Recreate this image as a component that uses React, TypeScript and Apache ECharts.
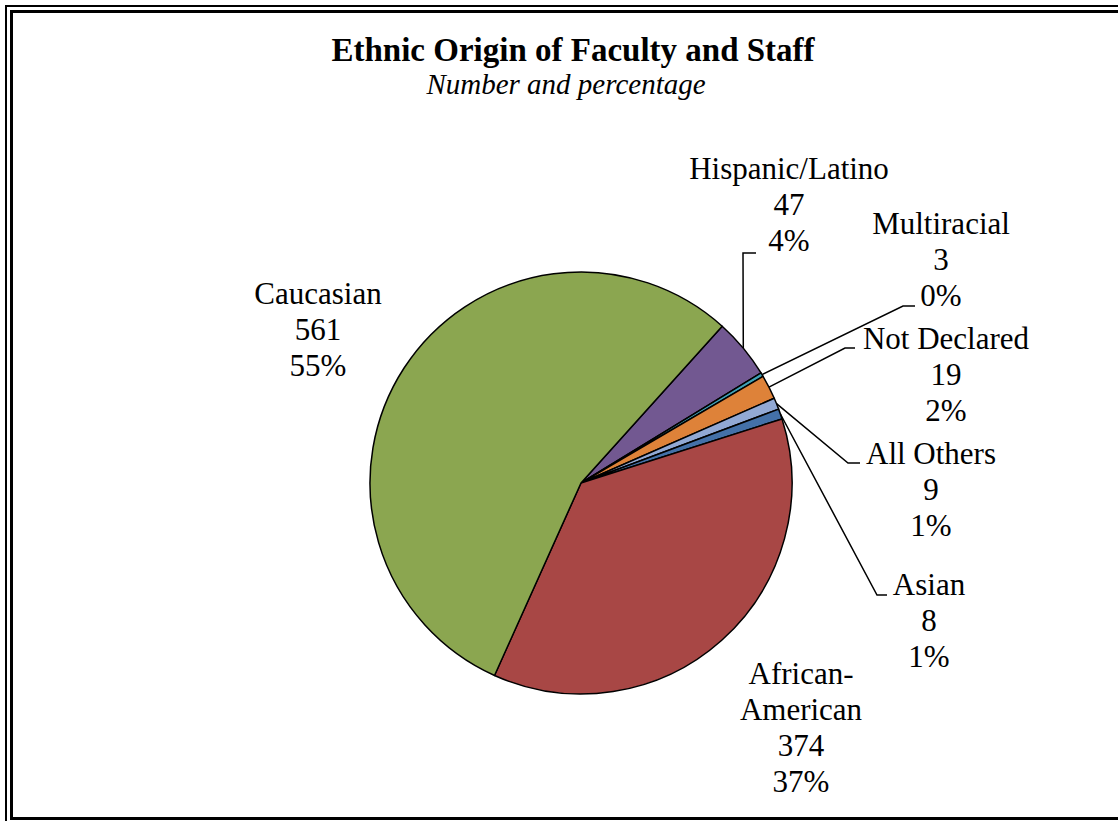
import React, { useEffect, useRef } from "react";
import * as echarts from "echarts";

const categories = ["Hispanic/Latino", "Multiracial", "Not Declared", "All Others", "Asian", "African-American", "Caucasian"];
const displayNames = ["Hispanic/Latino", "Multiracial", "Not Declared", "All Others", "Asian", "African-\nAmerican", "Caucasian"];
const counts = [47, 3, 19, 9, 8, 374, 561];
const percentLabels = ["4%", "0%", "2%", "1%", "1%", "37%", "55%"];
const colors = ["#725891", "#3FA2B8", "#DE8239", "#92A9D4", "#4471A8", "#A84745", "#8BA650"];

// label layout (center x, middle y) and leader line bends
const labelPos: number[][] = [
  [789, 204],
  [941, 259],
  [946, 374],
  [931, 489],
  [929, 620],
  [801, 727],
  [318, 329],
];
const leaderBends: (number[][] | null)[] = [
  [[743, 253], [756, 253]],
  [[903, 306], [915, 306]],
  [[845, 348], [855, 348]],
  [[848, 463], [860, 463]],
  [[877, 595], [887, 595]],
  null,
  null,
];

const CX = 581;
const CY = 483;
const R = 211;
const START = 48;

export default function App() {
  const ref = useRef<HTMLDivElement>(null);
  useEffect(() => {
    document.body.style.margin = "0";
    const chart = echarts.init(ref.current!, undefined, { renderer: "svg" });
    const total = counts.reduce((a, b) => a + b, 0);
    const anchorFor = (i: number) => {
      let before = 0;
      for (let k = 0; k < i; k++) before += counts[k];
      const mid = ((before + counts[i] / 2) / total) * 360;
      const a = ((START - mid) * Math.PI) / 180;
      return [CX + R * Math.cos(a), CY - R * Math.sin(a)];
    };
    const font = "'Liberation Serif', 'Times New Roman', serif";
    chart.setOption({
      animation: false,
      backgroundColor: "#ffffff",
      graphic: [
        {
          type: "rect",
          silent: true,
          shape: { x: 6, y: 6, width: 1200, height: 900 },
          style: { fill: "none", stroke: "#000", lineWidth: 2 },
        },
        {
          type: "rect",
          silent: true,
          shape: { x: 11.5, y: 11.5, width: 1200, height: 807 },
          style: { fill: "none", stroke: "#000", lineWidth: 3 },
        },
        {
          type: "text",
          x: 573,
          y: 50,
          style: {
            text: "Ethnic Origin of Faculty and Staff",
            font: `bold 33px ${font}`,
            fill: "#000",
            textAlign: "center",
            textVerticalAlign: "middle",
          },
        },
        {
          type: "text",
          x: 566,
          y: 84,
          style: {
            text: "Number and percentage",
            font: `italic 29px ${font}`,
            fill: "#000",
            textAlign: "center",
            textVerticalAlign: "middle",
          },
        },
      ],
      series: [
        {
          type: "pie",
          center: [CX, CY],
          radius: [0, R],
          startAngle: START,
          clockwise: true,
          avoidLabelOverlap: false,
          itemStyle: { borderColor: "#000", borderWidth: 1.5 },
          label: {
            show: true,
            position: "outside",
            fontFamily: font,
            fontSize: 31,
            lineHeight: 36,
            color: "#000",
            align: "center",
            formatter: (p: any) =>
              `${displayNames[p.dataIndex]}\n${counts[p.dataIndex]}\n${percentLabels[p.dataIndex]}`,
          },
          labelLine: {
            show: true,
            lineStyle: { color: "#000", width: 1.5 },
          },
          labelLayout: (p: any) => {
            const i = p.dataIndex;
            const out: any = {
              x: labelPos[i][0],
              y: labelPos[i][1],
              align: "center",
              verticalAlign: "middle",
            };
            const bends = leaderBends[i];
            if (bends) {
              const anchor = p.labelLinePoints && p.labelLinePoints[0] ? p.labelLinePoints[0] : anchorFor(i);
              out.labelLinePoints = [anchor, bends[0], bends[1]];
            }
            return out;
          },
          data: categories.map((name, i) => ({
            name,
            value: counts[i],
            itemStyle: { color: colors[i] },
            labelLine: { show: leaderBends[i] !== null },
          })),
        },
      ],
    });
    return () => chart.dispose();
  }, []);
  return <div ref={ref} style={{ width: 1118, height: 821 }} />;
}
